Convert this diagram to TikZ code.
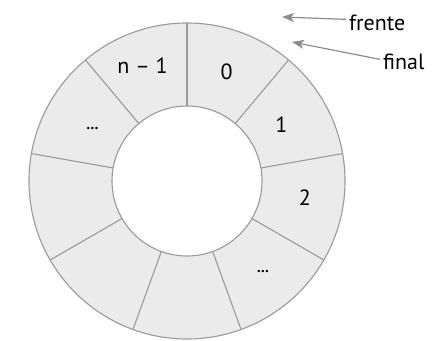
\documentclass[tikz,border=0pt]{standalone}
\usepackage{fontspec}
\setmainfont{PT Sans}
\usepackage{xcolor}
\usetikzlibrary{arrows.meta}

\definecolor{ringGray}{HTML}{EBEBEB}
\definecolor{edgeGray}{HTML}{9A9A9A}
\definecolor{arrowGray}{HTML}{8C8C8C}

\tikzset{
    slot/.style={draw=edgeGray, line width=1.1pt},
    pointer/.style={draw=arrowGray, line width=1.2pt,
        -{Stealth[length=12pt, width=9pt, inset=3pt]}},
    tag/.style={inner sep=3pt, anchor=base west},
    dots/.style={font=\fontsize{15}{17}\selectfont\bfseries}
}

\begin{document}
\begin{tikzpicture}[x=1pt, y=1pt, font=\fontsize{22}{26}\selectfont]
    \useasboundingbox (0,0) rectangle (433,340);
    \def\outerRing{(187,159) circle [radius=158]}
    \def\innerRing{(187,159) circle [radius=75]}
    \fill [ringGray, even odd rule] \outerRing \innerRing;
    \draw [slot] \outerRing \innerRing;

    % dividers between the nine slots
    \begin{scope}[shift={(187,159)}]
        \draw [slot] (90:75) -- (90:158);
        \draw [slot] (50:75) -- (50:158);
        \draw [slot] (10:75) -- (10:158);
        \draw [slot] (-30:75) -- (-30:158);
        \draw [slot] (-70:75) -- (-70:158);
        \draw [slot] (-110:75) -- (-110:158);
        \draw [slot] (-150:75) -- (-150:158);
        \draw [slot] (170:75) -- (170:158);
        \draw [slot] (130:75) -- (130:158);

        \node (slotZero) at (70:116){0};
        \node (slotOne) at (31:110){1};
        \node (slotTwo) at (-8:119){2};
        \node [dots] (slotDotsR) at (-50:118){\ldots};
        \node (slotLast) at (111:124){n -- 1};
        \node [dots] (slotDotsL) at (151:108){\ldots};
    \end{scope}

    \node [tag] (frente) at (346,309){frente};
    \node [tag] (final) at (380,270){final};
    \coordinate (frenteTip) at (282,323);
    \coordinate (finalTip) at (292,298);

    \draw [pointer] ([yshift=4pt]frente.west) -- (frenteTip);
    \draw [pointer] ([yshift=3pt]final.west) -- (finalTip);
\end{tikzpicture}
\end{document}
